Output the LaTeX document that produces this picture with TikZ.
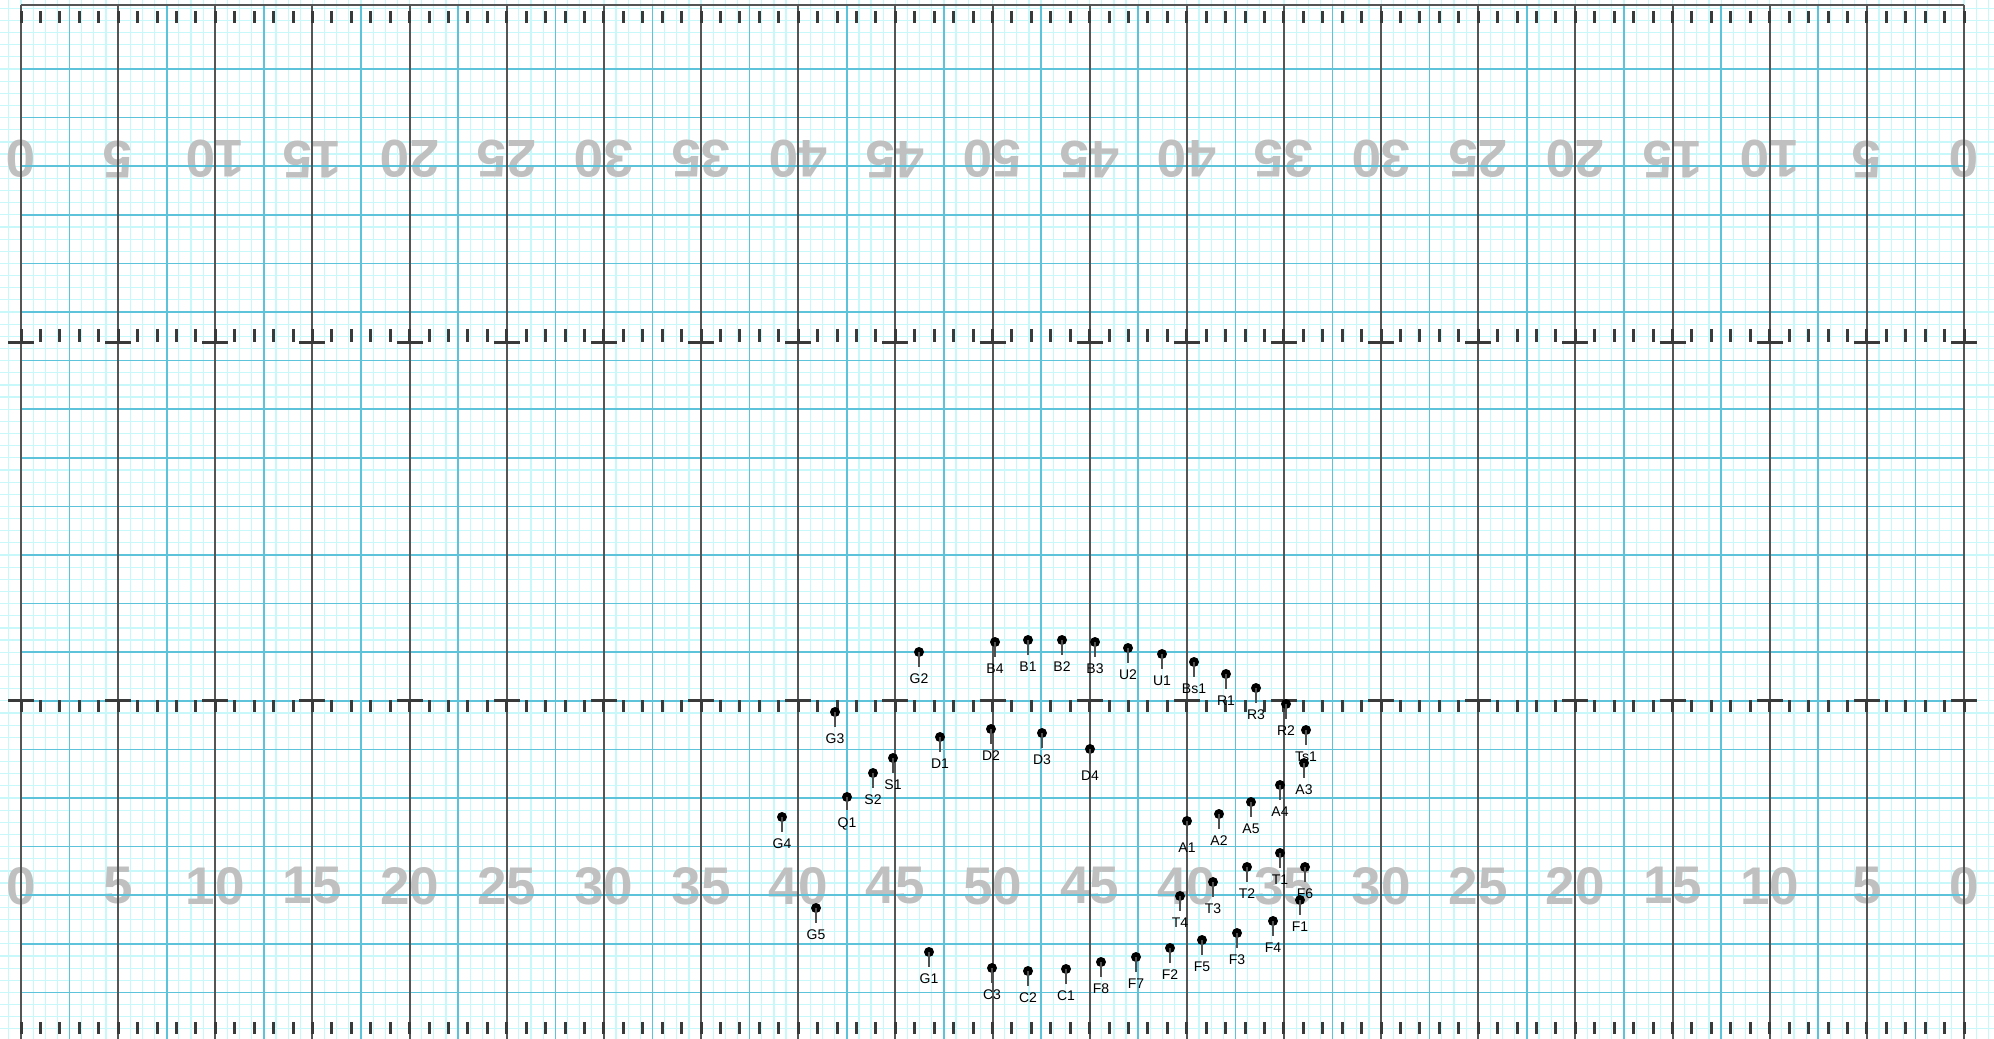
\documentclass[tikz,border=0pt]{standalone}
\usepackage{fontspec}
\setmainfont{Liberation Sans}
\definecolor{finec}{HTML}{C8F8FA}
\definecolor{bluec}{HTML}{5CC3DB}
\definecolor{darkc}{HTML}{555555}
\definecolor{tickc}{HTML}{3A3A3A}
\definecolor{numc}{HTML}{C0C0C0}
\definecolor{stemc}{HTML}{505050}
\tikzset{
  fineline/.style={draw=finec,line width=0.6pt},
  blueline/.style={draw=bluec,line width=0.8pt},
  darkline/.style={draw=darkc,line width=1pt},
  tickline/.style={draw=tickc,line width=1.5pt},
  yardnum/.style={inner sep=0pt,text=numc,font=\fontsize{26.5}{26.5}\selectfont\bfseries},
  pdot/.style={circle,fill=black,inner sep=0pt,minimum size=5pt},
  plab/.style={inner sep=0pt,font=\fontsize{7}{7}\selectfont},
  pstem/.style={draw=stemc,line width=0.65pt}
}
\newcommand\plyr[3]{%
  \node[pdot] (#1) at (#2,#3) {};
  \node[plab] (#1l) at (#2,#3+27) {#1};
  \draw[pstem] (#1.center) -- ([yshift=3.5pt]#1l.north);
}
\begin{document}
\begin{tikzpicture}[x=0.5pt,y=-0.5pt]
\useasboundingbox (0,0) rectangle (1994,1039);
\fill[white] (0,0) rectangle (1994,1039);
% fine grid
\foreach \i in {-1,...,162} \draw[fineline] ({21+12.1438*\i},0) -- ({21+12.1438*\i},1039);
\foreach \j in {-3,...,81} \draw[fineline] (0,{992.4-12.15*\j}) -- (1994,{992.4-12.15*\j});
% yard numbers
\foreach \k/\n in {0/0,1/5,2/10,3/15,4/20,5/25,6/30,7/35,8/40,9/45,10/50,11/45,12/40,13/35,14/30,15/25,16/20,17/15,18/10,19/5,20/0}{
  \node[yardnum,rotate=180] (nt\k) at ({21+97.15*\k},159) {\n};
  \node[yardnum] (nb\k) at ({21+97.15*\k},886) {\n};
}
% blue lines
\foreach \k in {0,...,19} \draw[blueline] ({21+48.575*(2*\k+1)},5) -- ({21+48.575*(2*\k+1)},1039);
\foreach \j in {0,...,19} \draw[blueline] (21,{69+48.6*\j}) -- (1964,{69+48.6*\j});
% dark lines
\foreach \k in {0,...,20} \draw[darkline] ({21+97.15*\k},5) -- ({21+97.15*\k},1039);
\draw[darkline] (21,5) -- (1964,5);
% ticks
\foreach \k in {0,...,100}{
  \draw[tickline] ({21+19.43*\k},11) -- ({21+19.43*\k},23);
  \draw[tickline] ({21+19.43*\k},1022) -- ({21+19.43*\k},1034);
  \draw[tickline] ({21+19.43*\k},329) -- ({21+19.43*\k},342);
  \draw[tickline] ({21+19.43*\k},700) -- ({21+19.43*\k},712);
}
\foreach \k in {0,...,20}{
  \draw[tickline] ({21+97.15*\k-13},342) -- ({21+97.15*\k+13},342);
  \draw[tickline] ({21+97.15*\k-13},700) -- ({21+97.15*\k+13},700);
}
% players
\plyr{G2}{919}{652}
\plyr{B4}{995}{642}
\plyr{B1}{1028}{640}
\plyr{B2}{1062}{640}
\plyr{B3}{1095}{642}
\plyr{U2}{1128}{648}
\plyr{U1}{1162}{654}
\plyr{Bs1}{1194}{662}
\plyr{R1}{1226}{674}
\plyr{R3}{1256}{688}
\plyr{R2}{1286}{704}
\plyr{Ts1}{1306}{730}
\plyr{A3}{1304}{763}
\plyr{A4}{1280}{785}
\plyr{A5}{1251}{802}
\plyr{A2}{1219}{814}
\plyr{A1}{1187}{821}
\plyr{G3}{835}{712}
\plyr{D1}{940}{737}
\plyr{D2}{991}{729}
\plyr{D3}{1042}{733}
\plyr{D4}{1090}{749}
\plyr{S1}{893}{758}
\plyr{S2}{873}{773}
\plyr{Q1}{847}{797}
\plyr{G4}{782}{817}
\plyr{G5}{816}{908}
\plyr{G1}{929}{952}
\plyr{C3}{992}{968}
\plyr{C2}{1028}{971}
\plyr{C1}{1066}{969}
\plyr{F8}{1101}{962}
\plyr{F7}{1136}{957}
\plyr{F2}{1170}{948}
\plyr{F5}{1202}{940}
\plyr{F3}{1237}{933}
\plyr{F4}{1273}{921}
\plyr{F1}{1300}{900}
\plyr{F6}{1305}{867}
\plyr{T1}{1280}{853}
\plyr{T2}{1247}{867}
\plyr{T3}{1213}{882}
\plyr{T4}{1180}{896}
\end{tikzpicture}
\end{document}
